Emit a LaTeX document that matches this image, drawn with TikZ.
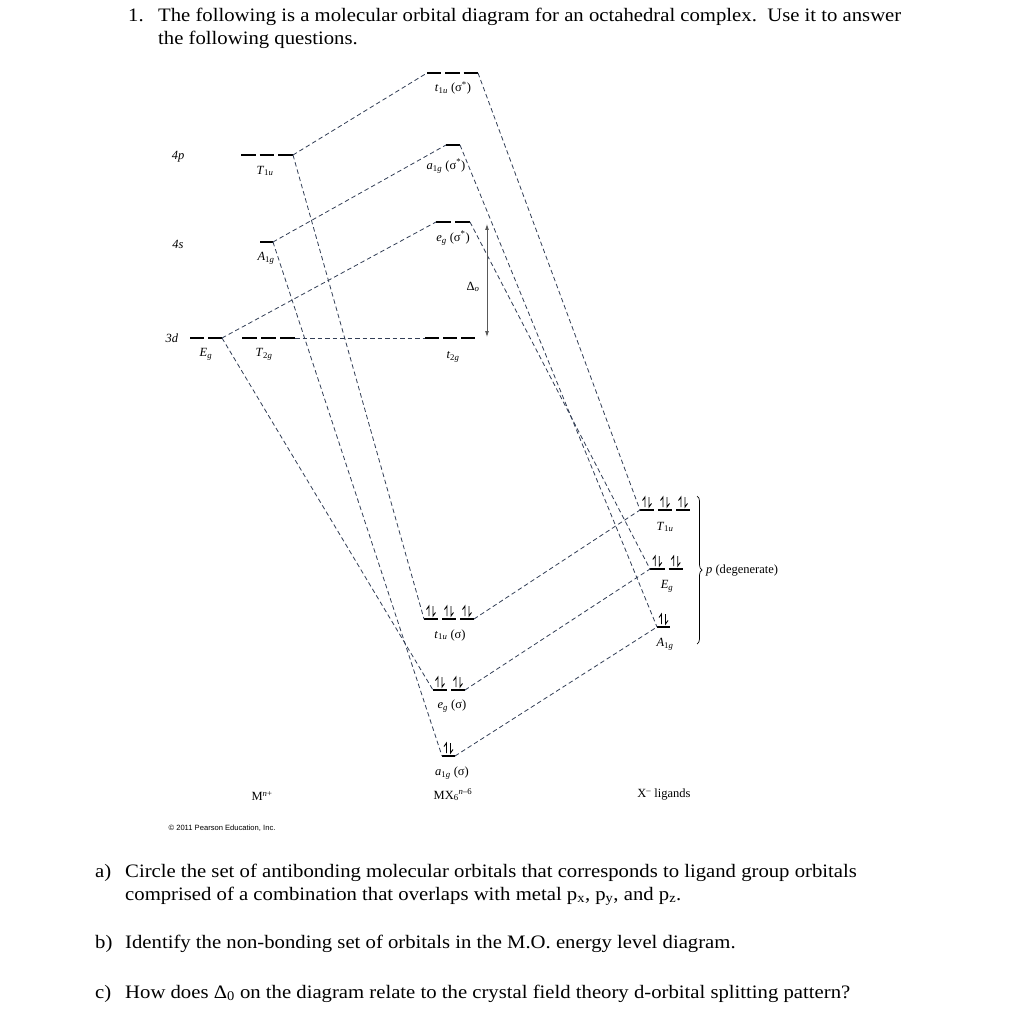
\documentclass[tikz,border=0pt]{standalone}
\usepackage{fontspec}
\setmainfont{Liberation Serif}
\newfontfamily\sansf{Liberation Sans}
\newfontfamily\qfont[FakeStretch=1.09]{Liberation Serif}
\usetikzlibrary{arrows.meta,decorations.pathreplacing}
\definecolor{linec}{RGB}{50,62,85}
\newcommand\mylevel[4]{%
  \pgfmathsetmacro\myseg{((#2)-(#1)-4*((#4)-1))/(#4)}%
  \foreach \i in {1,...,#4}{\draw[lvl] ({#1+(\i-1)*(\myseg+4)},#3) -- ++(\myseg,0);}%
}
\newcommand\myfilled[4]{%
  \pgfmathsetmacro\myseg{((#2)-(#1)-4*((#4)-1))/(#4)}%
  \foreach \i in {1,...,#4}{%
    \draw[lvl] ({#1+(\i-1)*(\myseg+4)},#3) -- ++(\myseg,0);
    \pgfmathsetmacro\cx{#1+(\i-1)*(\myseg+4)+\myseg/2}
    \draw[elec] (\cx-2,#3-3) -- (\cx-2,#3-13) -- (\cx-4.5,#3-9.5);
    \draw[elec] (\cx+2,#3-13) -- (\cx+2,#3-3) -- (\cx+4.5,#3-6.5);
  }%
}
\begin{document}
\begin{tikzpicture}[x=1pt,y=-1pt,
  conn/.style={dash pattern=on 4.5pt off 3pt, line width=0.8pt, draw=linec},
  lvl/.style={line width=1.9pt, black},
  elec/.style={line width=0.9pt, black, line join=miter},
  lab/.style={font=\fontsize{12.5}{14}\selectfont, inner sep=0pt},
  qtext/.style={font=\qfont\fontsize{19}{23}\selectfont, inner sep=0pt, anchor=base west}]
\useasboundingbox[fill=white] (0,0) rectangle (1022,1024);

% heading
\node[qtext] (n1) at (128,22) {1.};
\node[qtext] (h1) at (158,22) {The following is a molecular orbital diagram for an octahedral complex.\ \ Use it to answer};
\node[qtext] (h2) at (158,45) {the following questions.};

% metal levels
\mylevel{241}{293}{155}{3}
\mylevel{260}{273}{242}{1}
\mylevel{190}{222}{338}{2}
\mylevel{242}{295}{338}{3}
\coordinate (mT1uR) at (293,155);
\coordinate (mA1gR) at (273,242);
\coordinate (mEgR) at (222,338);
\coordinate (mT2gR) at (295,338);

% MO levels
\mylevel{427}{478}{73}{3}
\mylevel{446}{460}{145}{1}
\mylevel{436}{470}{222}{2}
\mylevel{425}{475}{338}{3}
\myfilled{424}{474}{619}{3}
\myfilled{433}{465}{690}{2}
\myfilled{442}{455}{756}{1}
\coordinate (asT1uL) at (427,73);  \coordinate (asT1uR) at (478,73);
\coordinate (asA1gL) at (446,145); \coordinate (asA1gR) at (460,145);
\coordinate (asEgL) at (436,222);  \coordinate (asEgR) at (470,222);
\coordinate (nbT2gL) at (425,338);
\coordinate (bT1uL) at (424,619);  \coordinate (bT1uR) at (474,619);
\coordinate (bEgL) at (433,690);   \coordinate (bEgR) at (465,690);
\coordinate (bA1gL) at (442,756);  \coordinate (bA1gR) at (455,756);

% ligand levels
\myfilled{640}{690}{510}{3}
\myfilled{650}{683}{569}{2}
\myfilled{657}{670}{627}{1}
\coordinate (lT1uL) at (640,510);
\coordinate (lEgL) at (650,569);
\coordinate (lA1gL) at (657,627);

% connectors
\draw[conn] (mT1uR) -- (asT1uL);
\draw[conn] (mT1uR) -- (bT1uL);
\draw[conn] (mA1gR) -- (asA1gL);
\draw[conn] (mA1gR) -- (bA1gL);
\draw[conn] (mEgR) -- (asEgL);
\draw[conn] (mEgR) -- (bEgL);
\draw[conn] (mT2gR) -- (nbT2gL);
\draw[conn] (asT1uR) -- (lT1uL);
\draw[conn] (asA1gR) -- (lA1gL);
\draw[conn] (asEgR) -- (lEgL);
\draw[conn] (bT1uR) -- (lT1uL);
\draw[conn] (bEgR) -- (lEgL);
\draw[conn] (bA1gR) -- (lA1gL);

% Delta o arrow
\coordinate (dtop) at (487,224);
\coordinate (dbot) at (487,337);
\draw[{Latex[length=6pt,width=4pt]}-{Latex[length=6pt,width=4pt]}, line width=0.8pt, black!65] (dtop) -- (dbot);
\node[lab] (dlab) at (473,287) {Δ\textsubscript{\textit{o}}};

% brace
\draw[line width=0.7pt, decorate, decoration={brace, amplitude=5pt}] (697,496) -- (697,644);
\node[lab, anchor=west] (pdeg) at (706,571) {\textit{p} (degenerate)};

% metal labels
\node[lab] (l4p) at (178,157) {\textit{4p}};
\node[lab] (l4s) at (178,244) {\textit{4s}};
\node[lab] (l3d) at (172,338) {\textit{3d}};
\node[lab] (lT1u) at (265,171) {\textit{T}\textsubscript{1\textit{u}}};
\node[lab] (lA1g) at (266,258) {\textit{A}\textsubscript{1\textit{g}}};
\node[lab] (lEg) at (206,354) {\textit{E}\textsubscript{\textit{g}}};
\node[lab] (lT2g) at (264,354) {\textit{T}\textsubscript{2\textit{g}}};

% MO labels
\node[lab] (o1) at (453,88) {\textit{t}\textsubscript{1\textit{u}} (σ\textsuperscript{*})};
\node[lab] (o2) at (446,166) {\textit{a}\textsubscript{1\textit{g}} (σ\textsuperscript{*})};
\node[lab] (o3) at (453,238) {\textit{e}\textsubscript{\textit{g}} (σ\textsuperscript{*})};
\node[lab] (o4) at (453,357) {\textit{t}\textsubscript{2\textit{g}}};
\node[lab] (o5) at (450,635) {\textit{t}\textsubscript{1\textit{u}} (σ)};
\node[lab] (o6) at (452,706) {\textit{e}\textsubscript{\textit{g}} (σ)};
\node[lab] (o7) at (452,773) {\textit{a}\textsubscript{1\textit{g}} (σ)};

% ligand labels
\node[lab] (g1) at (665,527) {\textit{T}\textsubscript{1\textit{u}}};
\node[lab] (g2) at (667,586) {\textit{E}\textsubscript{\textit{g}}};
\node[lab] (g3) at (665,644) {\textit{A}\textsubscript{1\textit{g}}};

% bottom labels
\node[lab] (bm) at (262,796) {M\textsuperscript{\textit{n}+}};
\node[lab] (bmx) at (453,795) {MX\textsubscript{6}\textsuperscript{\textit{n}–6}};
\node[lab] (bx) at (664,795) {X\textsuperscript{–} ligands};
\node[inner sep=0pt, font=\sansf\fontsize{7.6}{9}\selectfont] (copy) at (222,828) {© 2011 Pearson Education, Inc.};

% questions
\node[qtext] (qa) at (95,877) {a)};
\node[qtext] (qa1) at (125,877) {Circle the set of antibonding molecular orbitals that corresponds to ligand group orbitals};
\node[qtext] (qa2) at (125,900) {comprised of a combination that overlaps with metal p\textsubscript{x}, p\textsubscript{y}, and p\textsubscript{z}.};
\node[qtext] (qb) at (95,948) {b)};
\node[qtext] (qb1) at (125,948) {Identify the non-bonding set of orbitals in the M.O. energy level diagram.};
\node[qtext] (qc) at (95,998) {c)};
\node[qtext] (qc1) at (125,998) {How does Δ\textsubscript{0} on the diagram relate to the crystal field theory d-orbital splitting pattern?};
\end{tikzpicture}
\end{document}
